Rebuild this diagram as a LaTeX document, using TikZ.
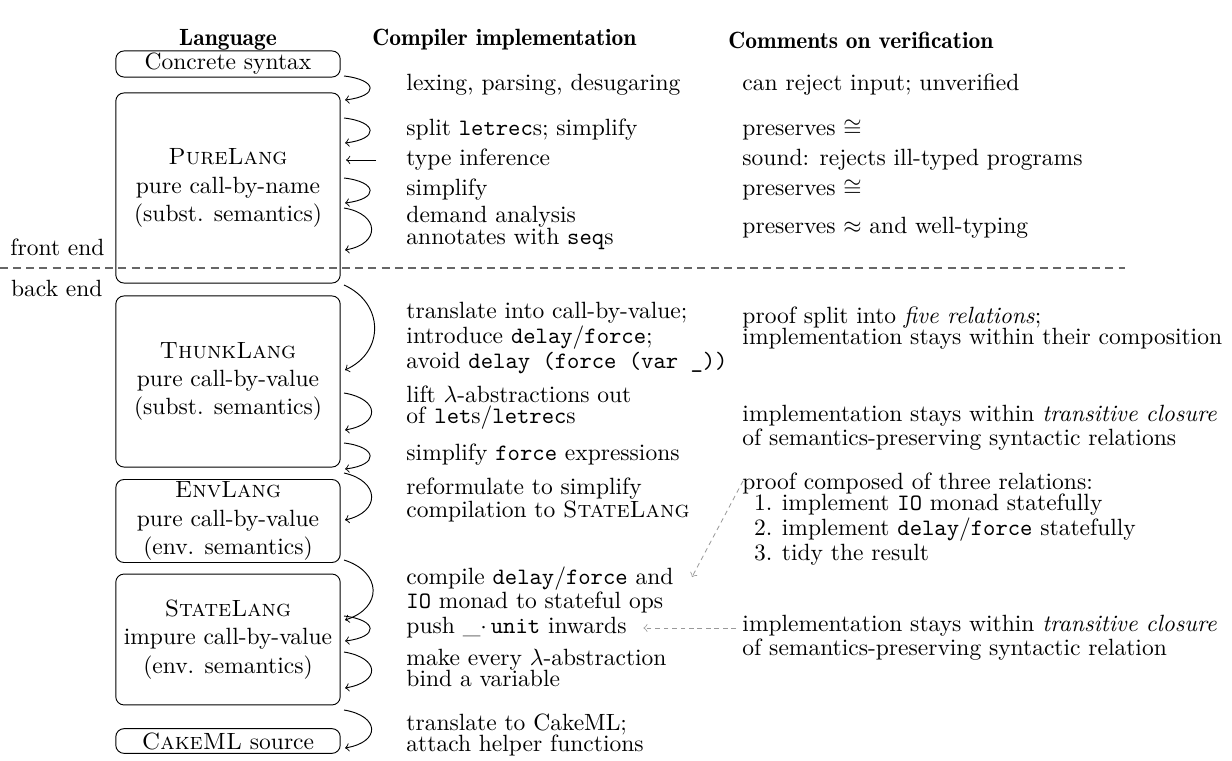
\documentclass[tikz,border=0pt]{standalone}
\tikzset{
  langbox/.style={draw, rounded corners=3.5pt, minimum width=95.5pt, align=center, inner xsep=2pt, inner ysep=1pt, font=\fontsize{10pt}{12pt}\selectfont},
  passtext/.style={anchor=west, align=left, inner sep=0pt, font=\fontsize{10pt}{9pt}\selectfont},
  hdr/.style={font=\fontseries{b}\selectfont, inner sep=0pt},
  passarrow/.style={->, line width=0.4pt},
  notearrow/.style={->, black!40, dash pattern=on 2pt off 1.6pt, line width=0.35pt},
  sepline/.style={black!60, dash pattern=on 3.4pt off 2.2pt, line width=0.5pt},
  sidelabel/.style={anchor=east, inner sep=0pt}
}
\newcommand\passarc[5]{%
  \coordinate (#1s) at (344,#2);
  \coordinate (#1e) at (345,#3);
  \draw[passarrow] (#1s) .. controls +(#4,#5) and +(#4,-#5) .. (#1e);}
\begin{document}
\begin{tikzpicture}[x=0.42553pt, y=-0.42553pt]
\useasboundingbox (0,0) rectangle (1232,761);

% headers
\node[hdr] (h1) at (228,40) {Language};
\node[hdr, anchor=west] (h2) at (372,40) {Compiler implementation};
\node[hdr, anchor=west] (h3) at (728,40) {Comments on verification};

% language boxes
\node[langbox, minimum height=10.5pt] (cs) at (228,64) {Concrete syntax};
\node[langbox, minimum height=80.9pt] (pure) at (228,188) {\textsc{PureLang}\\pure call-by-name\\(subst. semantics)};
\node[langbox, minimum height=72.8pt] (thunk) at (228,381.5) {\textsc{ThunkLang}\\pure call-by-value\\(subst. semantics)};
\node[langbox, minimum height=34.9pt] (env) at (228,521) {\textsc{EnvLang}\\pure call-by-value\\(env. semantics)};
\node[langbox, minimum height=55.7pt] (state) at (228,639.5) {\textsc{StateLang}\\impure call-by-value\\(env. semantics)};
\node[langbox, minimum height=10.5pt] (cake) at (228,741) {\textsc{CakeML} source};

% front/back end separator
\coordinate (sepL) at (0,268);
\coordinate (sepR) at (1125,268);
\draw[sepline] (sepL) -- (sepR);
\node[sidelabel] (fe) at (105,247) {front end};
\node[sidelabel] (be) at (103,288) {back end};

% compiler passes
\node[passtext] (p1) at (406,85) {lexing, parsing, desugaring};
\node[passtext] (p2) at (406,130) {split \texttt{letrec}s; simplify};
\node[passtext] (p3) at (406,160) {type inference};
\node[passtext] (p4) at (406,190) {simplify};
\node[passtext] (p5) at (406,228) {demand analysis\\annotates with \texttt{seq}s};
\node[passtext] (p6) at (406,338) {translate into call-by-value;\\introduce \texttt{delay}/\texttt{force};\\avoid \texttt{delay (force (var \_))}};
\node[passtext] (p7) at (406,408) {lift $\lambda$-abstractions out\\of \texttt{let}s/\texttt{letrec}s};
\node[passtext] (p8) at (406,455) {simplify \texttt{force} expressions};
\node[passtext] (p9) at (406,500) {reformulate to simplify\\compilation to \textsc{StateLang}};
\node[passtext] (p10) at (406,590) {compile \texttt{delay}/\texttt{force} and\\\texttt{IO} monad to stateful ops};
\node[passtext] (p11) at (406,628) {push \_$\cdot$\,\texttt{unit} inwards};
\node[passtext] (p12) at (406,668) {make every $\lambda$-abstraction\\bind a variable};
\node[passtext] (p13) at (406,735) {translate to CakeML;\\attach helper functions};

% comments
\node[passtext] (c1) at (742,85) {can reject input; unverified};
\node[passtext] (c2) at (742,130) {preserves $\cong$};
\node[passtext] (c3) at (742,160) {sound: rejects ill-typed programs};
\node[passtext] (c4) at (742,190) {preserves $\cong$};
\node[passtext] (c5) at (742,228) {preserves $\approx$ and well-typing};
\node[passtext] (c6) at (742,328) {proof split into \textit{five relations};\\implementation stays within their composition};
\node[passtext] (c7) at (742,428) {implementation stays within \textit{transitive closure}\\of semantics-preserving syntactic relations};
\node[passtext] (c8) at (742,519) {proof composed of three relations:\\\hspace*{5pt}1.\hspace{4pt}implement \texttt{IO} monad statefully\\\hspace*{5pt}2.\hspace{4pt}implement \texttt{delay}/\texttt{force} statefully\\\hspace*{5pt}3.\hspace{4pt}tidy the result};
\node[passtext] (c9) at (742,638) {implementation stays within \textit{transitive closure}\\of semantics-preserving syntactic relation};

% pass arrows
\passarc{a1}{76}{100}{34}{4}
\passarc{a2}{118}{143}{34}{4}
\coordinate (tis) at (376,160);
\coordinate (tie) at (346,160);
\draw[passarrow] (tis) -- (tie);
\passarc{a3}{178}{203}{34}{4}
\passarc{a4}{208}{250}{36}{6}
\passarc{a5}{285}{370}{40}{18}
\passarc{a6}{393}{430}{36}{6}
\passarc{a7}{443}{469}{34}{4}
\passarc{a8}{473}{520}{36}{8}
\passarc{a9}{560}{620}{38}{12}
\passarc{a10}{616}{641}{34}{4}
\passarc{a11}{652}{688}{36}{6}
\passarc{a12}{710}{748}{36}{6}

% note arrows
\coordinate (n1s) at (743,481);
\coordinate (n1e) at (692,577);
\draw[notearrow] (n1s) -- (n1e);
\coordinate (n2s) at (736,628);
\draw[notearrow, shorten >=7pt] (n2s) -- (p11.east);
\end{tikzpicture}
\end{document}
